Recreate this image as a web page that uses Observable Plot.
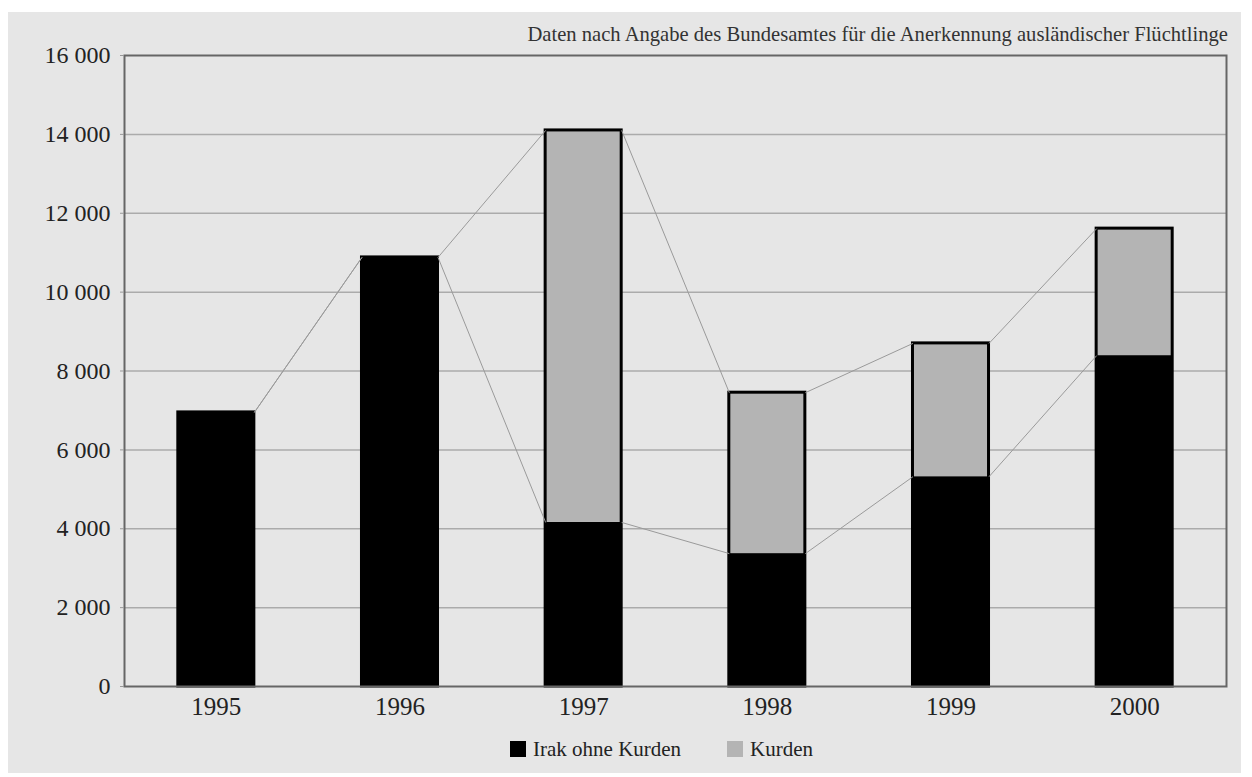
<!DOCTYPE html>
<html>
<head>
<meta charset="utf-8">
<script src="https://cdn.jsdelivr.net/npm/d3@7"></script>
<script src="https://cdn.jsdelivr.net/npm/@observablehq/plot@0.6"></script>
<style>
  html, body { margin: 0; padding: 0; background: #ffffff; }
  #wrap { position: absolute; left: 8px; top: 12px; width: 1233px; height: 761px; background: #e6e6e6; font-family: "Liberation Serif", serif; }
  #title { position: absolute; right: 13px; top: 12px; font-size: 20.6px; line-height: 20px; color: #333; white-space: nowrap; }
  #chart { position: absolute; left: 0; top: 23px; }
  #legend { position: absolute; left: 502px; top: 725px; font-size: 21px; line-height: 24px; color: #222; display: flex; align-items: center; white-space: nowrap; }
  .sw { display: inline-block; width: 16px; height: 16px; margin-right: 7px; }
</style>
</head>
<body>
<div id="wrap">
  <div id="title"></div>
  <div id="chart"></div>
  <div id="legend"></div>
</div>
<script>
const titleText = "Daten nach Angabe des Bundesamtes für die Anerkennung ausländischer Flüchtlinge";
const years = [1995, 1996, 1997, 1998, 1999, 2000];
const irak = [6950, 10880, 4160, 3370, 5320, 8390];
const kurden = [0, 0, 9940, 4080, 3380, 3220];
const yTicks = [0, 2000, 4000, 6000, 8000, 10000, 12000, 14000, 16000];
const seriesNames = ["Irak ohne Kurden", "Kurden"];
const seriesColors = ["#000000", "#b4b4b4"];

const hw = 0.207; // half bar width in years
const fmt = d => String(d).replace(/\B(?=(\d{3})+(?!\d))/g, " ");

const rows = years.map((y, i) => ({year: y, irak: irak[i], kurden: kurden[i], total: irak[i] + kurden[i]}));
const links = rows.slice(0, -1).map((r, i) => ({a: r, b: rows[i + 1]}));

document.getElementById("title").textContent = titleText;

const chart = Plot.plot({
  width: 1233,
  height: 700,
  marginLeft: 116,
  marginRight: 15,
  marginTop: 20,
  marginBottom: 49,
  style: {background: "transparent", fontFamily: "Liberation Serif, serif", fontSize: "24px", color: "#222"},
  x: {type: "linear", domain: [1994.5, 2000.5], label: null},
  y: {domain: [0, 16000], label: null},
  marks: [
    Plot.ruleY(yTicks.slice(1, -1), {stroke: "#ababab", strokeWidth: 1.5}),
    Plot.rect(rows, {x1: d => d.year - hw, x2: d => d.year + hw, y1: 0, y2: "irak", fill: seriesColors[0]}),
    Plot.rect(rows.filter(d => d.kurden > 0), {x1: d => d.year - hw, x2: d => d.year + hw, y1: "irak", y2: "total", fill: seriesColors[1]}),
    Plot.rect(rows, {x1: d => d.year - hw, x2: d => d.year + hw, y1: 0, y2: "total", fill: "none", stroke: "#000", strokeWidth: 3}),
    Plot.link(links, {x1: d => d.a.year + hw, y1: d => d.a.irak, x2: d => d.b.year - hw, y2: d => d.b.irak, stroke: "#9a9a9a", strokeWidth: 1}),
    Plot.link(links, {x1: d => d.a.year + hw, y1: d => d.a.total, x2: d => d.b.year - hw, y2: d => d.b.total, stroke: "#9a9a9a", strokeWidth: 1}),
    Plot.frame({stroke: "#666", strokeWidth: 2}),
    Plot.axisX({ticks: years, tickFormat: d => String(d), tickSize: 0, tickPadding: 11, fontSize: 25, label: null}),
    Plot.axisY({ticks: yTicks, tickFormat: fmt, tickSize: 4, tickPadding: 10, stroke: "#999", fontSize: 24, label: null})
  ]
});
document.getElementById("chart").appendChild(chart);

const legend = document.getElementById("legend");
seriesNames.forEach((name, i) => {
  const item = document.createElement("span");
  item.style.display = "inline-flex";
  item.style.alignItems = "center";
  item.style.marginRight = i === 0 ? "46px" : "0";
  const sw = document.createElement("span");
  sw.className = "sw";
  sw.style.background = seriesColors[i];
  item.appendChild(sw);
  item.appendChild(document.createTextNode(name));
  legend.appendChild(item);
});
</script>
</body>
</html>
